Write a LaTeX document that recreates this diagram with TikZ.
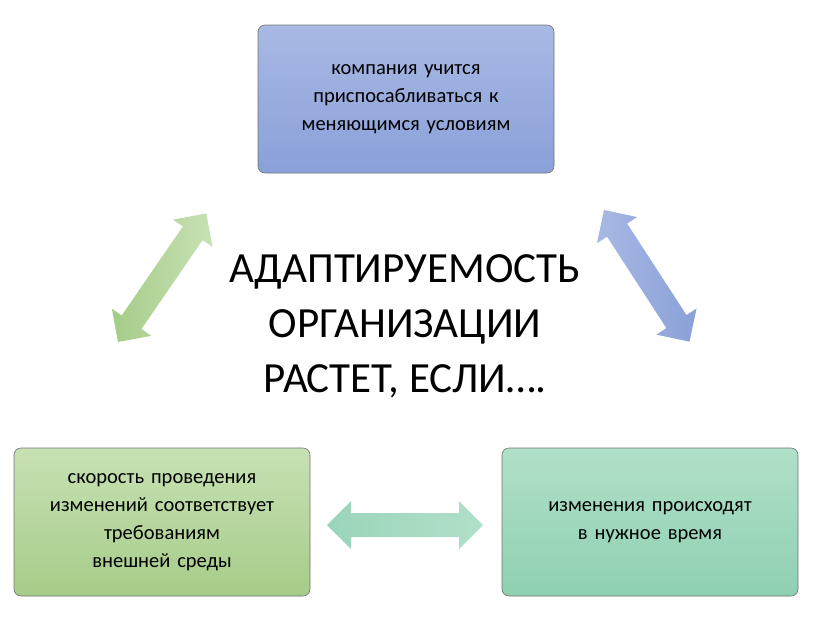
\documentclass[tikz,border=0pt]{standalone}
\usepackage{fontspec}
\setmainfont{Carlito}
\begin{document}
\begin{tikzpicture}[x=1pt,y=-1pt,
  box/.style={draw=black!55,line width=0.6pt,rounded corners=7pt,minimum width=296pt,minimum height=148pt,text width=262pt,align=center,font=\fontsize{20.5}{28}\selectfont,inner sep=0pt}]
\useasboundingbox (0,0) rectangle (816,616);
\definecolor{bt}{HTML}{A9B9E4}\definecolor{bb}{HTML}{8AA0D9}
\definecolor{gt}{HTML}{C8E1B4}\definecolor{gb}{HTML}{A5CC88}
\definecolor{tt}{HTML}{B0E0C8}\definecolor{tb}{HTML}{8FD0B2}
\node[box,top color=bt,bottom color=bb] (top) at (406,99) {компания учится\\ приспосабливаться к\\ меняющимся условиям};
\node[box,top color=gt,bottom color=gb] (bl) at (162,522) {скорость проведения изменений соответствует требованиям внешней среды};
\node[box,top color=tt,bottom color=tb] (br) at (650,522) {изменения происходят в нужное время};
\node[align=center,font=\fontsize{43}{55}\selectfont] (c) at (405,326) {АДАПТИРУЕМОСТЬ\\ОРГАНИЗАЦИИ\\РАСТЕТ, ЕСЛИ….};
\newcommand{\dblarrow}[6]{% x y angle length colorA colorB
 \begin{scope}[shift={(#1,#2)},rotate=#3]
  \shade[left color=#5,right color=#6] (0,0)--(24,24)--(24,12)--(#4-24,12)--(#4-24,24)--(#4,0)--(#4-24,-24)--(#4-24,-12)--(24,-12)--(24,-24)--cycle;
 \end{scope}}
\dblarrow{118}{342}{55.5}{156}{gb}{gt}
\dblarrow{604}{210}{-57}{157}{bt}{bb}
\dblarrow{327}{525}{0}{156}{tb!90}{tt}
\end{tikzpicture}
\end{document}
